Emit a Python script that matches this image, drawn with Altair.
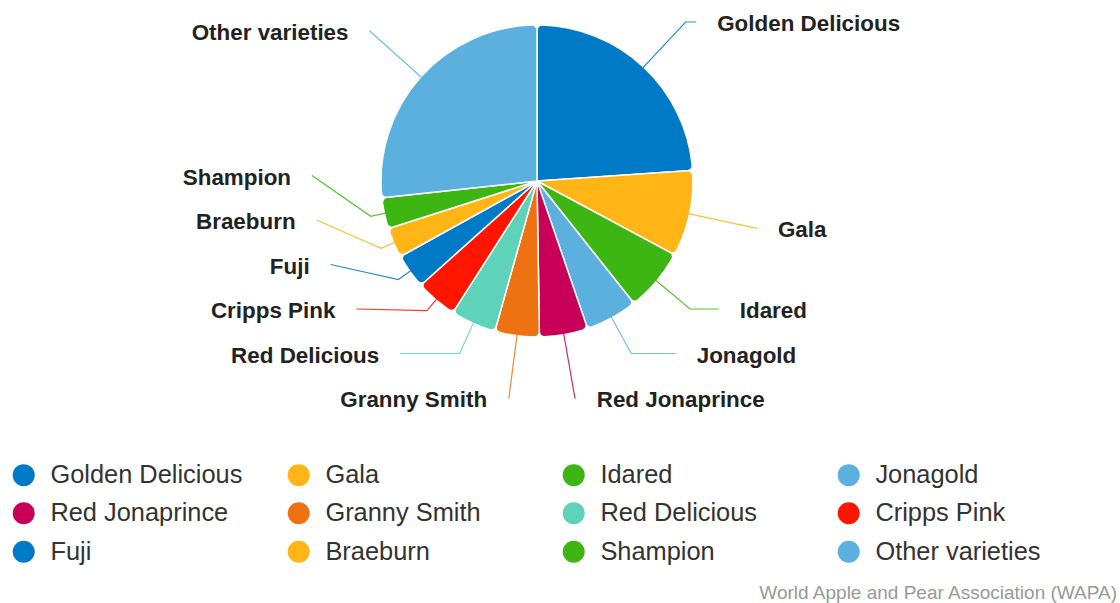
import math
import altair as alt
import pandas as pd

# ---------------- data ----------------
names = ["Golden Delicious", "Gala", "Idared", "Jonagold", "Red Jonaprince",
         "Granny Smith", "Red Delicious", "Cripps Pink", "Fuji", "Braeburn",
         "Shampion", "Other varieties"]
shares = [23.9, 8.9, 6.5, 5.4, 5.0, 4.6, 4.7, 4.3, 3.6, 3.1, 3.2, 26.7]
colors = ["#0079C6", "#FFB515", "#3DB613", "#5CB0DE", "#C8005A", "#EE7211",
          "#5FD3B9", "#FF1500", "#0079C6", "#FFB515", "#3DB613", "#5CB0DE"]
source_text = "World Apple and Pear Association (WAPA)"

# ---------------- layout constants ----------------
CX, CY, R_PIE = 537, 181, 156
LABEL_R = 225        # radius of the label anchor circle
BREAK = 14           # connector break point outside the slice
SPACING = 44.5       # vertical slot of a data label
TOP, BOTTOM = 22, 398
PAD = 21             # gap between connector end and text

total = sum(shares)
mid, cum = [], 0.0
for v in shares:
    mid.append(2 * math.pi * (cum + v / 2) / total)
    cum += v

n = len(names)
side = ["right" if math.sin(t) >= 0 else "left" for t in mid]
nat_y = [CY - LABEL_R * math.cos(t) for t in mid]


def get_x(y, left):
    s = max(-1.0, min(1.0, (y - CY) / LABEL_R))
    dx = LABEL_R * math.cos(math.asin(s))
    return CX - dx if left else CX + dx


anchor_x = [0.0] * n
anchor_y = [0.0] * n
for sd in ("right", "left"):
    idx = sorted([i for i in range(n) if side[i] == sd], key=lambda i: nat_y[i])
    # positions used for x: overlap removed, only the top bound applied
    free = [nat_y[i] for i in idx]
    for k in range(len(free) - 2, -1, -1):
        free[k] = min(free[k], free[k + 1] - SPACING)
    free[0] = max(free[0], TOP)
    for k in range(1, len(free)):
        free[k] = max(free[k], free[k - 1] + SPACING)
    # final positions: both bounds applied
    bnd = [nat_y[i] for i in idx]
    bnd[-1] = min(bnd[-1], BOTTOM)
    for k in range(len(bnd) - 2, -1, -1):
        bnd[k] = min(bnd[k], bnd[k + 1] - SPACING)
    bnd[0] = max(bnd[0], TOP)
    for k in range(1, len(bnd)):
        bnd[k] = max(bnd[k], bnd[k - 1] + SPACING)
    for k, i in enumerate(idx):
        anchor_x[i] = get_x(free[k], sd == "left")
        anchor_y[i] = bnd[k]

# connector paths
line_rows = []
for i in range(n):
    t = mid[i]
    ax, ay = anchor_x[i], anchor_y[i]
    bx = CX + (R_PIE + BREAK) * math.sin(t)
    by = CY - (R_PIE + BREAK) * math.cos(t)
    tx = CX + (R_PIE - 1) * math.sin(t)
    ty = CY - (R_PIE - 1) * math.cos(t)
    pts = [(ax, ay)]
    if abs(math.cos(t)) > 1e-6:
        crook = CX + (CY - ay) * math.tan(t)
        if side[i] == "right":
            ok = bx <= crook <= ax
        else:
            ok = ax <= crook <= bx
        if ok:
            pts.append((crook, ay))
    pts += [(bx, by), (tx, ty)]
    for k, (px, py) in enumerate(pts):
        line_rows.append({"name": names[i], "ord": k, "px": px, "py": py,
                          "hex": colors[i]})

pie_df = pd.DataFrame({"name": names, "share": shares, "idx": list(range(n))})
lines_df = pd.DataFrame(line_rows)
lab_df = pd.DataFrame({
    "name": names,
    "lx": [anchor_x[i] + (PAD if side[i] == "right" else -PAD) for i in range(n)],
    "ly": [anchor_y[i] + 2 for i in range(n)],
    "side": side,
})

pie = alt.Chart(pie_df).mark_arc(
    outerRadius=R_PIE, cornerRadius=5, stroke="white", strokeWidth=1.5
).encode(
    theta=alt.Theta("share:Q", stack=True),
    order=alt.Order("idx:Q"),
    color=alt.Color(
        "name:N",
        scale=alt.Scale(domain=names, range=colors),
        legend=alt.Legend(
            title=None, orient="none", legendX=11, legendY=462,
            direction="horizontal", columns=4, gridAlign="all",
            symbolType="circle", symbolSize=484, symbolStrokeWidth=0,
            symbolOpacity=1, labelFontSize=25.4, labelFont="Liberation Sans",
            labelColor="#333333", labelOffset=14, columnPadding=43,
            rowPadding=11.5, labelLimit=400, padding=0,
        ),
    ),
    x=alt.value(CX),
    y=alt.value(CY),
)

connectors = alt.Chart(lines_df).mark_line(strokeWidth=1.2, opacity=0.85).encode(
    x=alt.X("px:Q", scale=None, axis=None),
    y=alt.Y("py:Q", scale=None, axis=None),
    detail="name:N",
    order=alt.Order("ord:Q"),
    stroke=alt.Stroke("hex:N", scale=None),
)

label_style = dict(font="Liberation Sans", fontSize=22.4, fontWeight="bold",
                   color="#222222", baseline="middle")
labels_r = alt.Chart(lab_df[lab_df.side == "right"]).mark_text(
    align="left", **label_style
).encode(
    x=alt.X("lx:Q", scale=None, axis=None),
    y=alt.Y("ly:Q", scale=None, axis=None),
    text="name:N",
)
labels_l = alt.Chart(lab_df[lab_df.side == "left"]).mark_text(
    align="right", **label_style
).encode(
    x=alt.X("lx:Q", scale=None, axis=None),
    y=alt.Y("ly:Q", scale=None, axis=None),
    text="name:N",
)

credit = alt.Chart(pd.DataFrame({"t": [source_text]})).mark_text(
    align="right", baseline="middle", font="Liberation Sans", fontSize=19,
    color="#999999"
).encode(text="t:N", x=alt.value(1117), y=alt.value(593))

chart = alt.layer(pie, connectors, labels_r, labels_l, credit).properties(
    width=1120, height=603, padding=0,
    autosize=alt.AutoSizeParams(type="none"),
    background="white",
).configure_view(stroke=None)

chart.save("out.html", embed_options={"renderer": "svg", "actions": False})
